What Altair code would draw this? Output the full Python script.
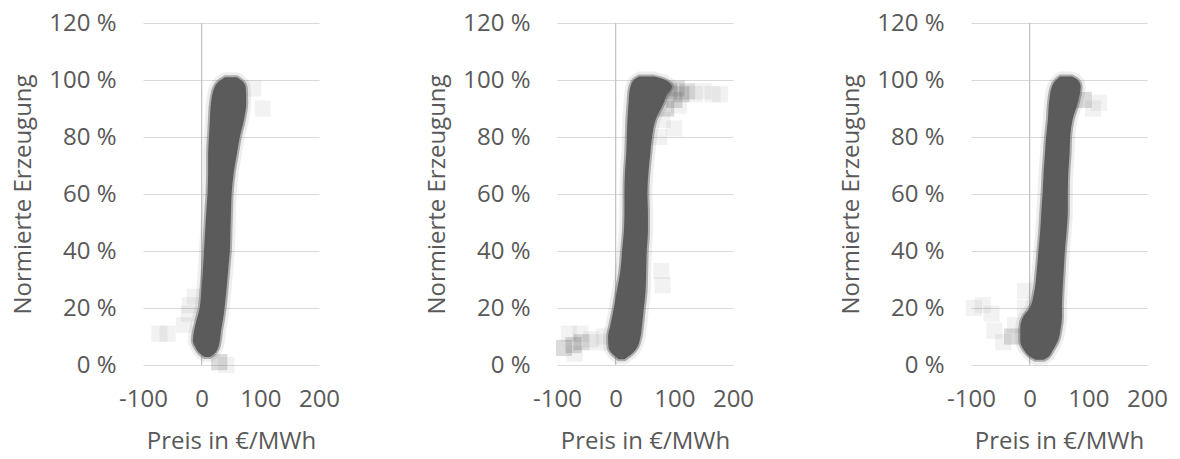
import altair as alt
import pandas as pd

# ---------------- data ----------------
# Panel 1: dense core band: levels (normierte Erzeugung %) with left/right price edge (EUR/MWh)
p1_levels = [2.8, 4, 6, 8.5, 12, 15.5, 20, 26, 33, 40, 47, 54, 60, 68, 74, 80, 86, 92, 97.5, 99.5, 101]
p1_left   = [5, -3, -10, -15, -13, -9, -3.5, -0.5, 2, 4, 6, 8, 10, 11, 11, 12.5, 14, 16, 22, 29, 40]
p1_right  = [14, 22, 28, 31, 33, 36, 39, 42, 45, 48, 49, 50, 51, 55, 60, 65, 72, 76, 75, 70, 60]
p1_mid_x   = [30]
p1_mid_y   = [1]
p1_faint_x = [-72, -58, -30, -22, -20, 42, 104, 88, -12]
p1_faint_y = [11, 11, 14, 18, 21, 0, 90, 97, 24]

# Panel 2
p2_levels = [2, 4, 6, 9.6, 14, 20, 26, 33, 40, 47, 54, 60, 68, 74, 80, 86, 92, 95, 97.5, 100, 101.2]
p2_left   = [5, -6, -12, -13, -9, -3, 2, 8, 11, 14, 15, 15, 16, 18, 19, 20, 22, 23, 25, 31, 40]
p2_right  = [15, 28, 36, 42, 45, 48, 51, 52, 53, 55, 55, 54, 56, 59, 62, 68, 82, 88, 96, 85, 65]
p2_mid_x   = [-88, -72, -58, 92, 100, 104, 112, 122, 86]
p2_mid_y   = [6, 7, 8, 96, 93, 97, 95, 96, 90]
p2_faint_x = [-80, -60, -42, -30, -20, 135, 150, 165, 178, 108, 100, 78, 80, -70, 80, 74]
p2_faint_y = [11, 11, 9, 8, 10, 95, 96, 95, 95, 91, 83, 33, 28, 4, 86, 80]

# Panel 3
p3_levels = [1.8, 2.7, 5, 8.4, 13, 16.6, 20, 26, 33, 40, 47, 54, 60, 68, 74, 80, 86, 92, 97.7, 100, 101.2]
p3_left   = [10, 2, -9, -16, -16, -12, 0, 8, 12, 15, 18, 20, 22, 24, 26, 28, 31, 33, 38, 45, 52]
p3_right  = [24, 31, 39, 48, 53, 55, 55, 56, 58, 60, 63, 65, 65, 66, 68, 69, 73, 82, 87, 82, 72]
p3_mid_x   = [-30, 92]
p3_mid_y   = [10, 93]
p3_faint_x = [-95, -80, -65, -60, -45, -25, 108, 118, -8, -8]
p3_faint_y = [20, 21, 18, 12, 8, 14, 90, 92, 26, 20]

y_ticks = [0, 20, 40, 60, 80, 100, 120]
x_ticks = [-100, 0, 100, 200]

TEXT = "#595959"
FONT = "Open Sans"


def panel(levels, left, right, mid_x, mid_y, faint_x, faint_y):
    core = pd.DataFrame({"y": levels, "left": left, "right": right})
    mid = pd.DataFrame({"x": mid_x, "y": mid_y})
    faint = pd.DataFrame({"x": faint_x, "y": faint_y})
    xs = alt.Scale(domain=[-100, 200], nice=False)
    ys = alt.Scale(domain=[0, 120], nice=False)
    xax = alt.Axis(values=x_ticks, grid=False, domain=False, ticks=False, labelOverlap=False,
                   labelFlush=False, labelExpr="'' + datum.value",
                   labelPadding=22, titlePadding=18, title="Preis in €/MWh")
    yax = alt.Axis(values=y_ticks, grid=True, gridColor="#d9d9d9", domain=False,
                   ticks=False, labelPadding=27, titlePadding=13, labelFlush=False,
                   labelExpr="datum.value + ' %'", title="Normierte Erzeugung")

    zero = alt.Chart(pd.DataFrame({"v": [0]})).mark_rule(color="#bfbfbf", strokeWidth=1.2).encode(
        x=alt.X("v:Q", scale=xs, axis=xax), y=alt.datum(0), y2=alt.datum(120))
    faint_l = alt.Chart(faint).mark_square(size=260, color="#595959", opacity=0.08).encode(
        x=alt.X("x:Q", scale=xs), y=alt.Y("y:Q", scale=ys))
    mid_l = alt.Chart(mid).mark_square(size=260, color="#595959", opacity=0.22).encode(
        x=alt.X("x:Q", scale=xs), y=alt.Y("y:Q", scale=ys))
    enc = dict(y=alt.Y("y:Q", scale=ys, axis=yax),
               x=alt.X("left:Q", scale=xs, axis=xax),
               x2="right:Q")
    halo = alt.Chart(core).mark_area(orient="horizontal", interpolate="monotone", fillOpacity=0,
                                     stroke="#5b5b5b", strokeWidth=10, strokeOpacity=0.1,
                                     strokeJoin="round").encode(**enc)
    band = alt.Chart(core).mark_area(orient="horizontal", color="#5b5b5b", interpolate="monotone",
                                     stroke="#5b5b5b", strokeWidth=4, strokeOpacity=0.45,
                                     strokeJoin="round").encode(**enc)
    return alt.layer(zero, faint_l, mid_l, halo, band).properties(width=176, height=342)


p1 = panel(p1_levels, p1_left, p1_right, p1_mid_x, p1_mid_y, p1_faint_x, p1_faint_y)
p2 = panel(p2_levels, p2_left, p2_right, p2_mid_x, p2_mid_y, p2_faint_x, p2_faint_y)
p3 = panel(p3_levels, p3_left, p3_right, p3_mid_x, p3_mid_y, p3_faint_x, p3_faint_y)

chart = alt.hconcat(p1, p2, p3, spacing=238, bounds="flush").properties(
    padding={"left": 3, "top": 3, "right": 0, "bottom": 4}
).configure_view(stroke=None).configure_axis(
    labelFont=FONT, titleFont=FONT, labelFontSize=24, titleFontSize=24,
    labelColor=TEXT, titleColor=TEXT, titleFontWeight="normal"
)

chart.save("out.html", embed_options={"renderer": "svg", "actions": False})
